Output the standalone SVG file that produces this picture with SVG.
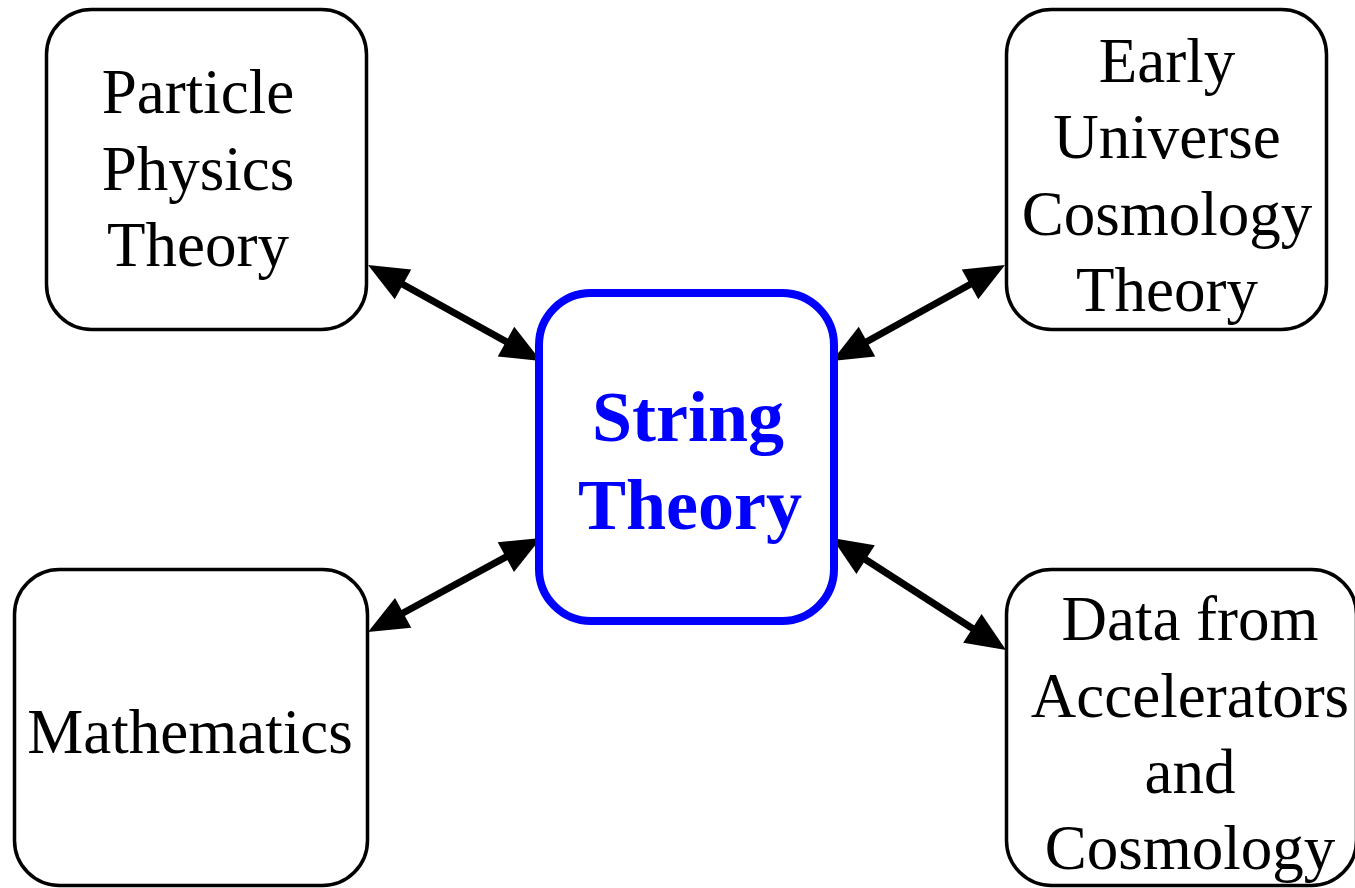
<svg xmlns="http://www.w3.org/2000/svg" width="1355" height="888" viewBox="0 0 1355 888">
<style>
.box{fill:#fff;stroke:#000;stroke-width:3.5}
.main{fill:#fff;stroke:#0000ff;stroke-width:8}
.t{font-family:"Liberation Serif","Times New Roman",serif;font-size:63px;fill:#000;text-anchor:middle}
.st{font-family:"Liberation Serif","Times New Roman",serif;font-size:72px;font-weight:bold;fill:#0000ff;text-anchor:middle}
.c{stroke:#000;stroke-width:7;fill:none;marker-start:url(#ah);marker-end:url(#ah)}
</style>
<defs>
<marker id="ah" markerUnits="userSpaceOnUse" markerWidth="42" markerHeight="36" refX="20" refY="17" orient="auto-start-reverse" overflow="visible">
<path d="M0,0 L40,17 L0,34 z" fill="#000"/>
</marker>
</defs>
<rect width="1355" height="888" fill="#fff"/>
<g id="connectors">
<line class="c" x1="385.5" y1="274.7" x2="523.5" y2="351.3"/>
<line class="c" x1="987.5" y1="274.7" x2="849.5" y2="351.3"/>
<line class="c" x1="385.6" y1="622.5" x2="523.4" y2="547.5"/>
<line class="c" x1="848.8" y1="548.8" x2="989.2" y2="639.2"/>
</g>
<g id="particle">
<rect class="box" x="46.5" y="9.5" width="320" height="320" rx="45"/>
<text class="t" x="198" y="113">Particle</text>
<text class="t" x="198" y="190">Physics</text>
<text class="t" x="198" y="266">Theory</text>
</g>
<g id="early">
<rect class="box" x="1006.5" y="9.5" width="320" height="320" rx="45"/>
<text class="t" x="1167" y="82">Early</text>
<text class="t" x="1167" y="158">Universe</text>
<text class="t" x="1167" y="235">Cosmology</text>
<text class="t" x="1167" y="311">Theory</text>
</g>
<g id="string">
<rect class="main" x="539" y="293" width="295" height="328" rx="52"/>
<text class="st" x="688" y="441">String</text>
<text class="st" x="690" y="529">Theory</text>
</g>
<g id="math">
<rect class="box" x="14.5" y="569.5" width="353" height="316" rx="45"/>
<text class="t" x="190" y="753">Mathematics</text>
</g>
<g id="data">
<rect class="box" x="1006.5" y="569.5" width="350" height="316" rx="45"/>
<text class="t" x="1190" y="640">Data from</text>
<text class="t" x="1190" y="717">Accelerators</text>
<text class="t" x="1190" y="793">and</text>
<text class="t" x="1190" y="869">Cosmology</text>
</g>
</svg>
